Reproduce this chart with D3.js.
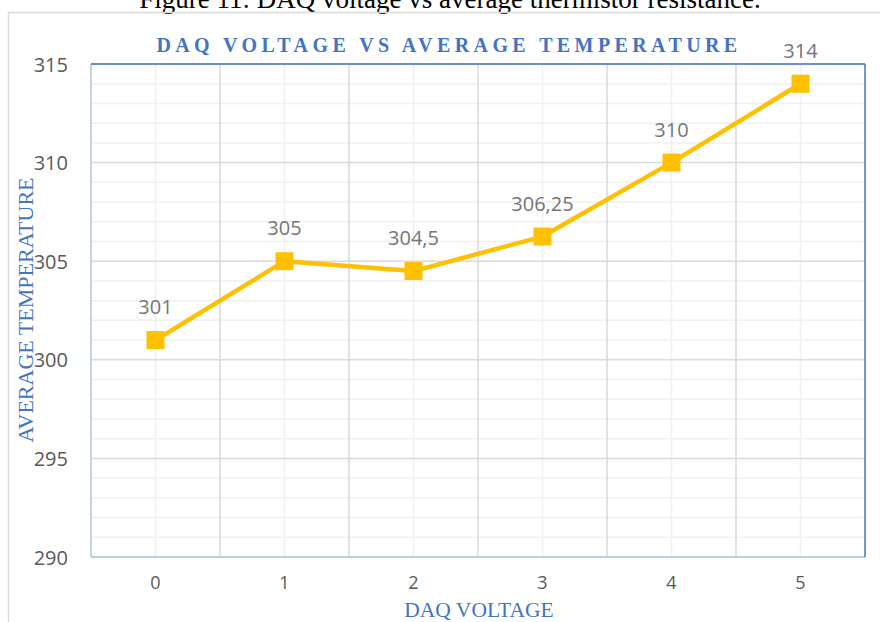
<!DOCTYPE html>
<html><head><meta charset="utf-8">
<script src="https://cdn.jsdelivr.net/npm/d3@7/dist/d3.min.js"></script>
<style>body{margin:0;background:#fff}svg{display:block}</style>
</head><body>
<svg id="c" width="880" height="622"></svg>
<script>
const categories = ["0","1","2","3","4","5"];
const values = [301, 305, 304.5, 306.25, 310, 314];
const labels = ["301","305","304,5","306,25","310","314"];
const yTicks = [290, 295, 300, 305, 310, 315];

const svg = d3.select("#c");
const L = 91, R = 865, T = 64, B = 557;
const x = d3.scaleBand().domain(categories).range([L, R]);
const y = d3.scaleLinear().domain([290, 315]).range([B, T]);

// caption (partly cut at the top, as in the reference)
svg.append("text").attr("x", 450).attr("y", 8).attr("text-anchor", "middle")
  .attr("font-family", "Liberation Serif, Times New Roman, serif").attr("font-size", 27)
  .attr("fill", "#000").text("Figure 11: DAQ voltage vs average thermistor resistance.");
// outer chart border
svg.append("rect").attr("x", 8.5).attr("y", 12.5).attr("width", 880).attr("height", 620)
  .attr("fill", "none").attr("stroke", "#d9d9d9").attr("stroke-width", 1.5);

const g = svg.append("g");
g.selectAll(".hmin").data(d3.range(291, 315).filter(v => v % 5 !== 0)).join("line")
  .attr("x1", L).attr("x2", R).attr("y1", d => y(d)).attr("y2", d => y(d))
  .attr("stroke", "#f0f0f0").attr("stroke-width", 1.5);
g.selectAll(".vmin").data(categories).join("line")
  .attr("x1", d => x(d) + x.bandwidth() / 2).attr("x2", d => x(d) + x.bandwidth() / 2)
  .attr("y1", T).attr("y2", B).attr("stroke", "#f0f0f0").attr("stroke-width", 1.5);
g.selectAll(".hmaj").data(yTicks).join("line")
  .attr("x1", L).attr("x2", R).attr("y1", d => y(d)).attr("y2", d => y(d))
  .attr("stroke", "#d9d9d9").attr("stroke-width", 1.5);
g.selectAll(".vmaj").data(categories.slice(1)).join("line")
  .attr("x1", d => x(d)).attr("x2", d => x(d))
  .attr("y1", T).attr("y2", B).attr("stroke", "#d9d9d9").attr("stroke-width", 1.5);

g.append("line").attr("x1", L).attr("x2", L).attr("y1", T).attr("y2", B).attr("stroke", "#b4c4e0").attr("stroke-width", 1.5);
g.append("line").attr("x1", L).attr("x2", R).attr("y1", B).attr("y2", B).attr("stroke", "#b4c4e0").attr("stroke-width", 1.5);
g.append("line").attr("x1", L).attr("x2", R).attr("y1", T).attr("y2", T).attr("stroke", "#4472c4").attr("stroke-width", 1.5);
g.append("line").attr("x1", R).attr("x2", R).attr("y1", T).attr("y2", B).attr("stroke", "#4472c4").attr("stroke-width", 1.5);

const yAxis = d3.axisLeft(y).tickValues(yTicks).tickSize(0).tickPadding(0);
const ya = svg.append("g").attr("transform", `translate(${L - 23},0)`).call(yAxis);
ya.select(".domain").remove();
ya.selectAll("text").attr("font-family", "Open Sans, Noto Sans, sans-serif").attr("font-size", 20).attr("fill", "#595959").attr("dy", "0.35em");

const xAxis = d3.axisBottom(x).tickSize(0).tickPadding(0);
const xa = svg.append("g").attr("transform", `translate(0,${B + 19})`).call(xAxis);
xa.select(".domain").remove();
xa.selectAll("text").attr("font-family", "Open Sans, Noto Sans, sans-serif").attr("font-size", 18).attr("fill", "#595959").attr("dy", "0.7em");

const cx = (d, i) => x(categories[i]) + x.bandwidth() / 2;
svg.append("path").datum(values)
  .attr("d", d3.line().x((d, i) => cx(d, i)).y(d => y(d)))
  .attr("fill", "none").attr("stroke", "#ffc000").attr("stroke-width", 4.5).attr("stroke-linejoin", "round");
svg.selectAll(".pt").data(values).join("rect")
  .attr("x", (d, i) => cx(d, i) - 9).attr("y", d => y(d) - 9)
  .attr("width", 18).attr("height", 18).attr("fill", "#ffc000");
svg.selectAll(".lbl").data(values).join("text")
  .attr("x", (d, i) => cx(d, i)).attr("y", d => y(d) - 26)
  .attr("text-anchor", "middle").attr("font-family", "Open Sans, Noto Sans, sans-serif")
  .attr("font-size", 20).attr("fill", "#757575").text((d, i) => labels[i]);

svg.append("text").attr("x", 449).attr("y", 52).attr("text-anchor", "middle")
  .attr("font-family", "Liberation Serif, Times New Roman, serif").attr("font-weight", "bold")
  .attr("font-size", 20).attr("letter-spacing", "4.4px").attr("fill", "#4472c4")
  .text("DAQ VOLTAGE VS AVERAGE TEMPERATURE");
svg.append("text").attr("transform", "translate(33,310) rotate(-90)").attr("text-anchor", "middle")
  .attr("font-family", "Liberation Serif, Times New Roman, serif").attr("font-size", 22)
  .attr("fill", "#4472c4").text("AVERAGE TEMPERATURE");
svg.append("text").attr("x", 479).attr("y", 617).attr("text-anchor", "middle")
  .attr("font-family", "Liberation Serif, Times New Roman, serif").attr("font-size", 21.5)
  .attr("fill", "#4472c4").text("DAQ VOLTAGE");
</script>
</body></html>
